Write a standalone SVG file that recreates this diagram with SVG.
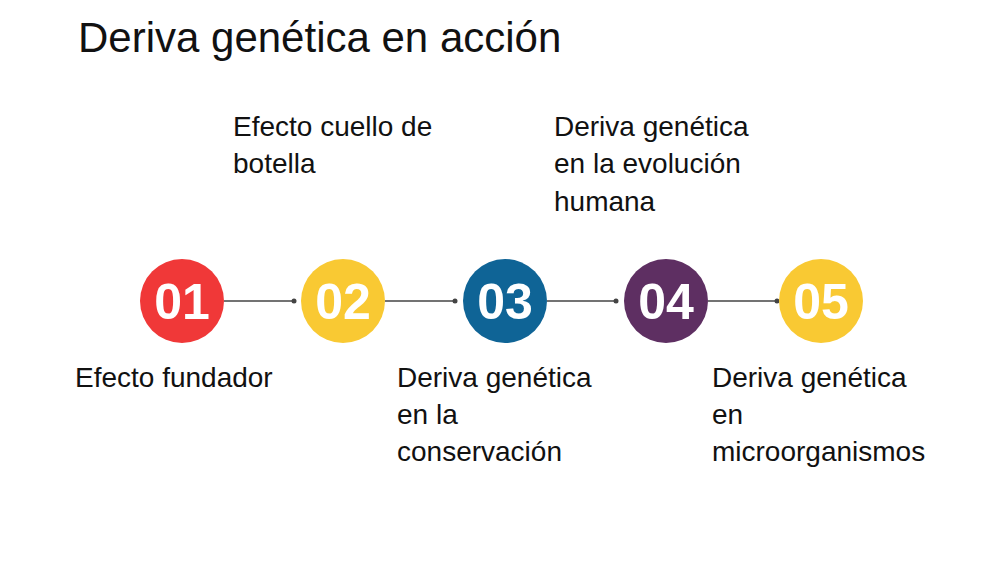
<svg xmlns="http://www.w3.org/2000/svg" width="1000" height="563" viewBox="0 0 1000 563">
<style>
text{font-family:"Liberation Sans",Arial,sans-serif}
.t{font-size:28px;fill:#111}
.n{font-size:50px;font-weight:bold;fill:#fff;text-anchor:middle}
.c{stroke:#444;stroke-width:1.5;fill:none}
</style>
<rect width="1000" height="563" fill="#fff"/>
<text x="78" y="52" style="font-size:42px;fill:#111">Deriva genética en acción</text>
<g id="connectors">
<line class="c" x1="224" y1="301" x2="294" y2="301"/><circle cx="294" cy="301" r="2.5" fill="#444"/>
<line class="c" x1="385" y1="301" x2="455" y2="301"/><circle cx="455" cy="301" r="2.5" fill="#444"/>
<line class="c" x1="547" y1="301" x2="616" y2="301"/><circle cx="616" cy="301" r="2.5" fill="#444"/>
<line class="c" x1="708" y1="301" x2="777" y2="301"/><circle cx="777" cy="301" r="2.5" fill="#444"/>
</g>
<g id="n1"><circle cx="182" cy="301" r="42" fill="#f03838"/><text class="n" x="182" y="319">01</text>
<text class="t" x="75" y="387">Efecto fundador</text></g>
<g id="n2"><circle cx="343" cy="301" r="42" fill="#f9c933"/><text class="n" x="343" y="319">02</text>
<text class="t" x="233" y="136">Efecto cuello de</text><text class="t" x="233" y="173">botella</text></g>
<g id="n3"><circle cx="505" cy="301" r="42" fill="#0f6496"/><text class="n" x="505" y="319">03</text>
<text class="t" x="397" y="387">Deriva genética</text><text class="t" x="397" y="424">en la</text><text class="t" x="397" y="461">conservación</text></g>
<g id="n4"><circle cx="666" cy="301" r="42" fill="#5e2f62"/><text class="n" x="666" y="319">04</text>
<text class="t" x="554" y="136">Deriva genética</text><text class="t" x="554" y="173">en la evolución</text><text class="t" x="554" y="211">humana</text></g>
<g id="n5"><circle cx="821" cy="301" r="42" fill="#f9c933"/><text class="n" x="821" y="319">05</text>
<text class="t" x="712" y="387">Deriva genética</text><text class="t" x="712" y="424">en</text><text class="t" x="712" y="461">microorganismos</text></g>
</svg>
